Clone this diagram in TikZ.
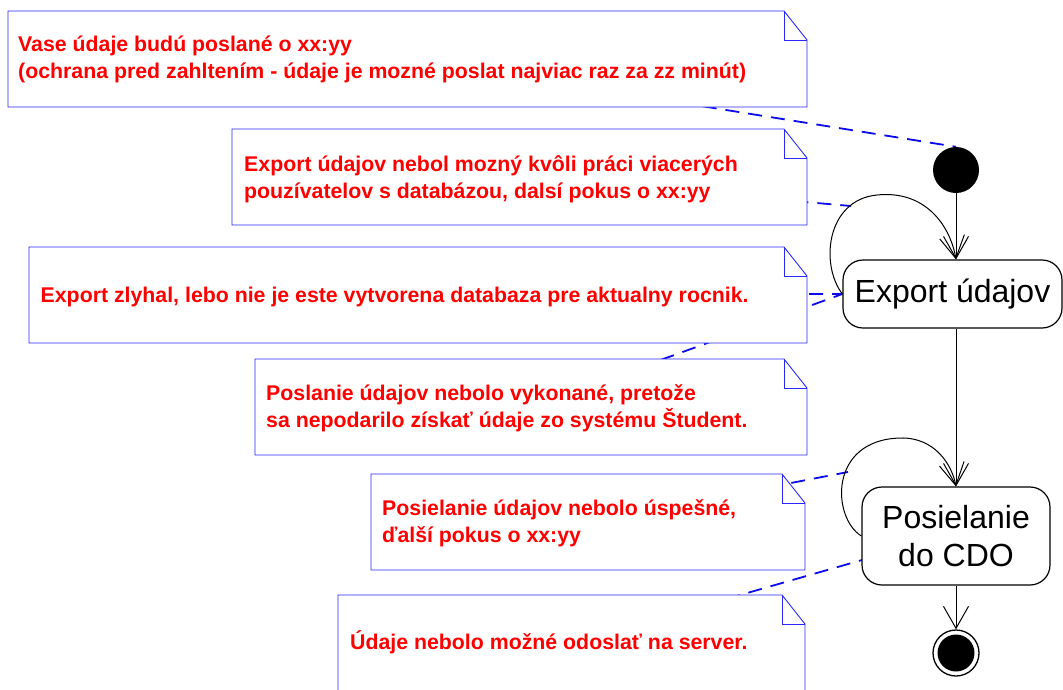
\documentclass[tikz,border=0pt]{standalone}
\usepackage{fontspec}
\setmainfont{Liberation Sans}
\usetikzlibrary{arrows.meta}
\pgfdeclarelayer{background}
\pgfsetlayers{background,main}
\definecolor{notered}{RGB}{255,0,0}
\definecolor{noteblue}{RGB}{40,40,250}
\definecolor{linkblue}{RGB}{10,10,235}

% dog-eared note outline around an (invisible) frame node
\newcommand\notepaper[1]{%
  \draw[notebox] (#1.north west) -- ([xshift=-23pt]#1.north east)
    -- ([yshift=-29pt]#1.north east) -- (#1.south east) -- (#1.south west) -- cycle;
  \draw[notebox, fill=none] ([xshift=-23pt]#1.north east) |- ([yshift=-29pt]#1.north east);
}

\tikzset{
  notefr/.style={draw=none, inner sep=0pt, outer sep=0pt},
  notebox/.style={draw=noteblue, line width=0.9pt, fill=white},
  notetext/.style={text=notered, font=\fontsize{21.3}{27}\selectfont\bfseries,
    align=left, inner sep=0pt, anchor=north west},
  link/.style={draw=linkblue, line width=1.8pt, dash pattern=on 14pt off 9pt},
  state/.style={draw, line width=1.2pt, rounded corners=20pt, fill=white,
    font=\fontsize{32}{37.6}\selectfont, align=center, inner sep=0pt},
  flow/.style={draw, line width=1pt, -{Straight Barb[length=22pt,width=25pt]}},
}

\begin{document}
\begin{tikzpicture}[x=1pt,y=-1pt]
\useasboundingbox (0,0) rectangle (1063,689);

% activity nodes
\node[circle, fill=black, minimum size=46pt, inner sep=0pt] (init) at (956,170) {};
\node[state, minimum width=219pt, minimum height=68pt] (export) at (952.5,294) {Export údajov};
\node[state, minimum width=188pt, minimum height=98pt] (send) at (956,536) {Posielanie\\do CDO};
\node[circle, draw, line width=1.3pt, minimum size=46pt, inner sep=0pt] (final) at (956,653) {};
\node[circle, fill=black, minimum size=37pt, inner sep=0pt] (finaldot) at (final) {};

% transitions
\draw[flow] (init.south) -- (init.south |- export.north);
\draw[flow] (send.north |- export.south) -- (send.north);
\draw[flow] (send.south) -- (final.north);
\draw[flow] (export.west) .. controls (820,265) and (826,200) .. (877,195)
  .. controls (925,190) and (950,225) .. (init.south |- export.north);
\draw[flow] (send.west) .. controls (832,518) and (828,440) .. (900,438)
  .. controls (935,437) and (952,465) .. (send.north);

% anchor points of the note links
\coordinate (hook1) at (851,206);
\coordinate (hook2) at (848,472);
\coordinate (sendside) at (862,560);

% notes
\node[notefr, minimum width=799pt, minimum height=96pt] (n1) at (407.5,59) {};
\notepaper{n1}
\node[notetext] (t1) at (18,31) {\rule{0pt}{20pt}Vase údaje budú poslané o xx:yy\\(ochrana pred zahltením - údaje je mozné poslat najviac raz za zz minút)};

\node[notefr, minimum width=575pt, minimum height=96pt] (n2) at (519.5,177) {};
\notepaper{n2}
\node[notetext] (t2) at (244,151) {\rule{0pt}{20pt}Export údajov nebol mozný kvôli práci viacerých\\pouzívatelov s databázou, dalsí pokus o xx:yy};

\node[notefr, minimum width=778pt, minimum height=96pt] (n3) at (418,295) {};
\notepaper{n3}
\node[notetext] (t3) at (40.5,282) {\rule{0pt}{20pt}Export zlyhal, lebo nie je este vytvorena databaza pre aktualny rocnik.};

\node[notefr, minimum width=552pt, minimum height=96pt] (n4) at (531,407) {};
\notepaper{n4}
\node[notetext] (t4) at (266,380) {\rule{0pt}{20pt}Poslanie údajov nebolo vykonané, pretože\\sa nepodarilo získať údaje zo systému Študent.};

\node[notefr, minimum width=434pt, minimum height=96pt] (n5) at (588,522) {};
\notepaper{n5}
\node[notetext] (t5) at (382,495) {\rule{0pt}{20pt}Posielanie údajov nebolo úspešné,\\ďalší pokus o xx:yy};

\node[notefr, minimum width=467pt, minimum height=97pt] (n6) at (571.5,643.5) {};
\notepaper{n6}
\node[notetext] (t6) at (350,629) {\rule{0pt}{20pt}Údaje nebolo možné odoslať na server.};

% dashed note links, behind the notes
\begin{pgfonlayer}{background}
\draw[link] (n1.center) -- (init.north);
\draw[link] (n2.center) -- (hook1);
\draw[link] (n3.center) -- (export.west);
\draw[link] (n4.center) -- (export.west);
\draw[link] (n5.center) -- (hook2);
\draw[link] (n6.center) -- (sendside);
\end{pgfonlayer}
\end{tikzpicture}
\end{document}
